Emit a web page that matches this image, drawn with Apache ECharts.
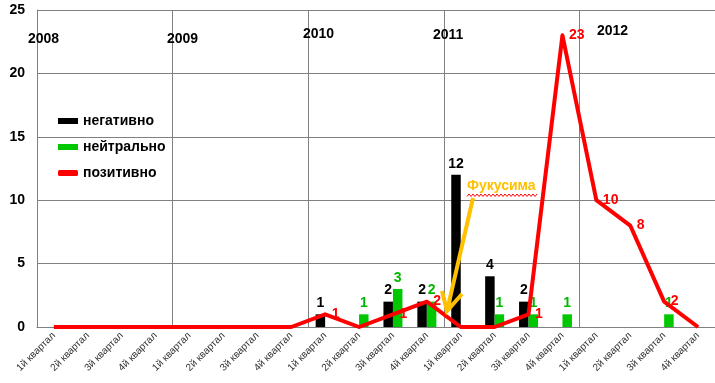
<!DOCTYPE html>
<html>
<head>
<meta charset="utf-8">
<script src="https://cdn.jsdelivr.net/npm/echarts@6/dist/echarts.min.js"></script>
<style>html,body{margin:0;padding:0;background:#fff}#c{width:715px;height:383px}</style>
</head>
<body>
<div id="c"></div>
<script>
var categories = [
  '1й квартал','2й квартал','3й квартал','4й квартал',
  '1й квартал','2й квартал','3й квартал','4й квартал',
  '1й квартал','2й квартал','3й квартал','4й квартал',
  '1й квартал','2й квартал','3й квартал','4й квартал',
  '1й квартал','2й квартал','3й квартал','4й квартал'
];
var years = ['2008','2009','2010','2011','2012'];
var negative = [null,null,null,null, null,null,null,null, 1,null,2,2, 12,4,2,null, null,null,null,null];
var neutral  = [null,null,null,null, null,null,null,null, null,1,3,2, null,1,1,1, null,null,1,null];
var positive = [0,0,0,0, 0,0,0,0, 1,0,1,2, 0,0,1,23, 10,8,2,0];
var yTicks = [0,5,10,15,20,25];
var annotation = 'Фукусима';

var FONT = '"Liberation Sans", Arial, sans-serif';
var chart = echarts.init(document.getElementById('c'));

var yearPos = [[28,40],[167,40],[303,35],[433,36],[597,32]];
var graphics = years.map(function(y,i){
  return {type:'text', left:yearPos[i][0], top:yearPos[i][1]-8, z:10,
    style:{text:y, font:'bold 14px '+FONT, fill:'#000'}};
});
graphics.push({type:'text', left:467, top:179, z:10,
  style:{text:annotation, font:'bold 14px '+FONT, fill:'#FFC000'}});
var wave = [];
for (var x=467, k=0; x<=537; x+=2, k++) wave.push([x, k%2 ? 194 : 196.5]);
graphics.push({type:'polyline', z:10, shape:{points:wave}, style:{stroke:'#FF0000', lineWidth:1, fill:null}});
graphics.push({type:'polyline', z:11, shape:{points:[[473,198],[447,311]]}, style:{stroke:'#FFC000', lineWidth:4, fill:null}});
graphics.push({type:'polyline', z:11, shape:{points:[[442,291],[447,311],[462,294]]}, style:{stroke:'#FFC000', lineWidth:4, fill:null, lineJoin:'miter'}});

var option = {
  animation:false,
  backgroundColor:'#fff',
  textStyle:{fontFamily:FONT},
  grid:{left:37, right:0, top:10, bottom:56, containLabel:false},
  legend:{
    orient:'vertical', left:58, top:114, padding:0, itemWidth:20, itemHeight:6, itemGap:12,
    textStyle:{fontFamily:FONT, fontSize:14, fontWeight:'bold', color:'#000', lineHeight:14},
    data:[{name:'негативно', icon:'rect'},{name:'нейтрально', icon:'rect'},{name:'позитивно', icon:'roundRect'}]
  },
  xAxis:{
    type:'category', data:categories, boundaryGap:true,
    axisLine:{lineStyle:{color:'#808080', width:1}},
    axisTick:{show:false},
    axisLabel:{rotate:45, interval:0, fontSize:10, color:'#333', fontFamily:FONT, margin:7},
    splitLine:{show:true, interval:function(i){return i%4===0;}, lineStyle:{color:'#808080', width:1}}
  },
  yAxis:{
    type:'value', min:yTicks[0], max:yTicks[yTicks.length-1], interval:5,
    axisLine:{show:true, lineStyle:{color:'#808080'}},
    axisTick:{show:false},
    axisLabel:{fontSize:14, fontWeight:'bold', color:'#000', fontFamily:FONT, margin:12},
    splitLine:{show:true, lineStyle:{color:'#808080', width:1}}
  },
  series:[
    {name:'негативно', type:'bar', data:negative, barWidth:9.5, barGap:'0%',
     itemStyle:{color:'#000000'},
     label:{show:true, position:'top', distance:4, color:'#000', fontWeight:'bold', fontSize:14, fontFamily:FONT}},
    {name:'нейтрально', type:'bar', data:neutral, barWidth:9.5, barGap:'0%',
     itemStyle:{color:'#00C800'},
     label:{show:true, position:'top', distance:4, color:'#00B800', fontWeight:'bold', fontSize:14, fontFamily:FONT}},
    {name:'позитивно', type:'line', data:positive, symbol:'circle', symbolSize:1, showSymbol:true, z:5,
     itemStyle:{color:'#FF0000'},
     lineStyle:{color:'#FF0000', width:4, join:'round'},
     label:{show:true, position:'right', distance:6, color:'#FF0000', fontWeight:'bold', fontSize:14, fontFamily:FONT,
       formatter:function(p){return p.value ? String(p.value) : '';}}}
  ],
  graphic:graphics
};
chart.setOption(option);
</script>
</body>
</html>
